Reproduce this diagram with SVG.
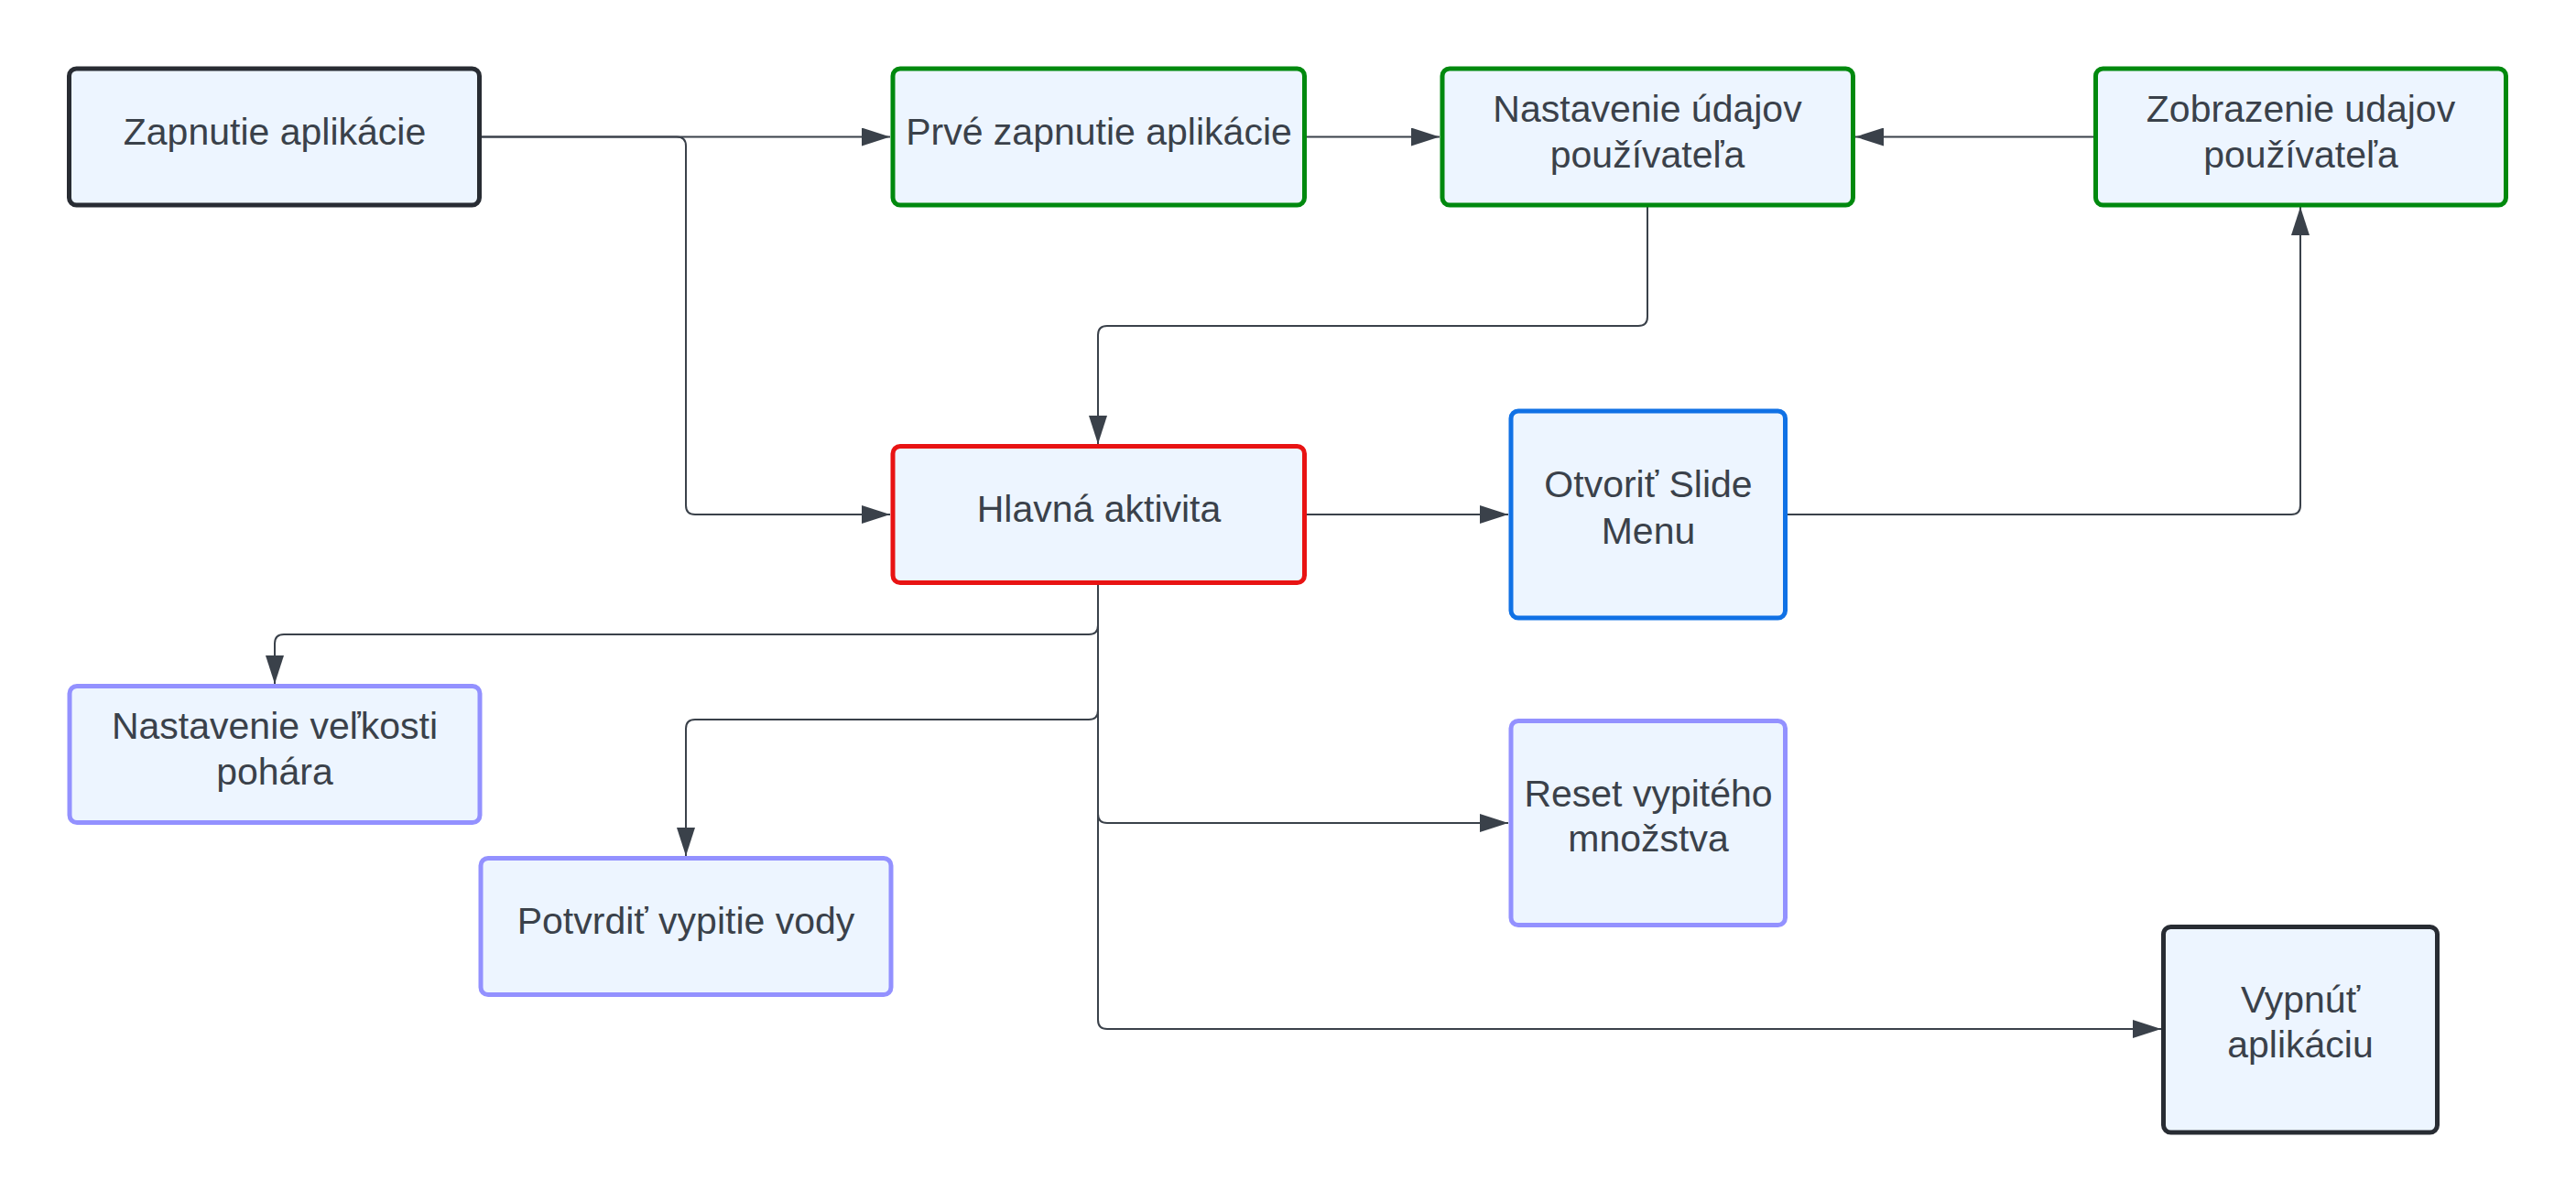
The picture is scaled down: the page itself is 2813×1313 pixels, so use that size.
<svg xmlns="http://www.w3.org/2000/svg" width="2813" height="1313" viewBox="0 0 2813 1313">
<defs>
<style>
.n{fill:#edf5ff;stroke-width:5}
.dark{stroke:#282c33}
.green{stroke:#00890e}
.red{stroke:#e81313}
.blue{stroke:#1071e5}
.purple{stroke:#9391ff}
text{font-family:"Liberation Sans",Arial,sans-serif;font-size:41px;fill:#3a414a;text-anchor:middle}
.c{fill:none;stroke:#3a414a;stroke-width:2}
</style>
<marker id="ah" markerUnits="userSpaceOnUse" markerWidth="31" markerHeight="20" refX="31" refY="10" orient="auto" viewBox="0 0 31 20">
<path d="M0,0 L31,10 L0,20 Z" fill="#3a414a"/>
</marker>
</defs>
<rect width="2813" height="1313" fill="#ffffff"/>

<g id="connectors">
<path class="c" d="M526,149.5 H972" marker-end="url(#ah)"/>
<path class="c" d="M526,149.5 H739 Q749,149.5 749,159.5 V552 Q749,562 759,562 H972" marker-end="url(#ah)"/>
<path class="c" d="M1427,149.5 H1572" marker-end="url(#ah)"/>
<path class="c" d="M2286,149.5 H2026" marker-end="url(#ah)"/>
<path class="c" d="M1799,226 V346 Q1799,356 1789,356 H1209 Q1199,356 1199,366 V485" marker-end="url(#ah)"/>
<path class="c" d="M1427,562 H1647" marker-end="url(#ah)"/>
<path class="c" d="M1952,562 H2502 Q2512,562 2512,552 V226" marker-end="url(#ah)"/>
<path class="c" d="M1199,639 V683 Q1199,693 1189,693 H310 Q300,693 300,703 V747" marker-end="url(#ah)"/>
<path class="c" d="M1199,639 V776 Q1199,786 1189,786 H759 Q749,786 749,796 V935" marker-end="url(#ah)"/>
<path class="c" d="M1199,639 V889 Q1199,899 1209,899 H1647" marker-end="url(#ah)"/>
<path class="c" d="M1199,639 V1114 Q1199,1124 1209,1124 H2360" marker-end="url(#ah)"/>
</g>

<g id="node-zapnutie">
<rect class="n dark" x="75.5" y="75" width="448" height="149" rx="8"/>
<text x="300" y="158">Zapnutie aplikácie</text>
</g>
<g id="node-prve-zapnutie">
<rect class="n green" x="975" y="75" width="449.5" height="149" rx="8"/>
<text x="1200" y="158">Prvé zapnutie aplikácie</text>
</g>
<g id="node-nastavenie-udajov">
<rect class="n green" x="1575" y="75" width="448.5" height="149" rx="8"/>
<text x="1799" y="133.3">Nastavenie údajov</text>
<text x="1799" y="182.7">používateľa</text>
</g>
<g id="node-zobrazenie">
<rect class="n green" x="2288.5" y="75" width="448" height="149" rx="8"/>
<text x="2512.5" y="133.3">Zobrazenie udajov</text>
<text x="2512.5" y="182.7">používateľa</text>
</g>
<g id="node-hlavna">
<rect class="n red" x="975" y="487.5" width="449.5" height="149" rx="8"/>
<text x="1200" y="570">Hlavná aktivita</text>
</g>
<g id="node-slide-menu">
<rect class="n blue" x="1650" y="449" width="299.5" height="226" rx="8"/>
<text x="1800" y="543.3">Otvoriť Slide</text>
<text x="1800" y="594">Menu</text>
</g>
<g id="node-velkost">
<rect class="n purple" x="76" y="749.5" width="448" height="149" rx="8"/>
<text x="300" y="807">Nastavenie veľkosti</text>
<text x="300" y="857">pohára</text>
</g>
<g id="node-potvrdit">
<rect class="n purple" x="525" y="937.5" width="448" height="149" rx="8"/>
<text x="749" y="1020">Potvrdiť vypitie vody</text>
</g>
<g id="node-reset">
<rect class="n purple" x="1650" y="787.5" width="299.5" height="223" rx="8"/>
<text x="1800" y="881">Reset vypitého</text>
<text x="1800" y="929.5">množstva</text>
</g>
<g id="node-vypnut">
<rect class="n dark" x="2362.5" y="1012.5" width="299" height="224.5" rx="8"/>
<text x="2512" y="1106">Vypnúť</text>
<text x="2512" y="1155.3">aplikáciu</text>
</g>
</svg>
